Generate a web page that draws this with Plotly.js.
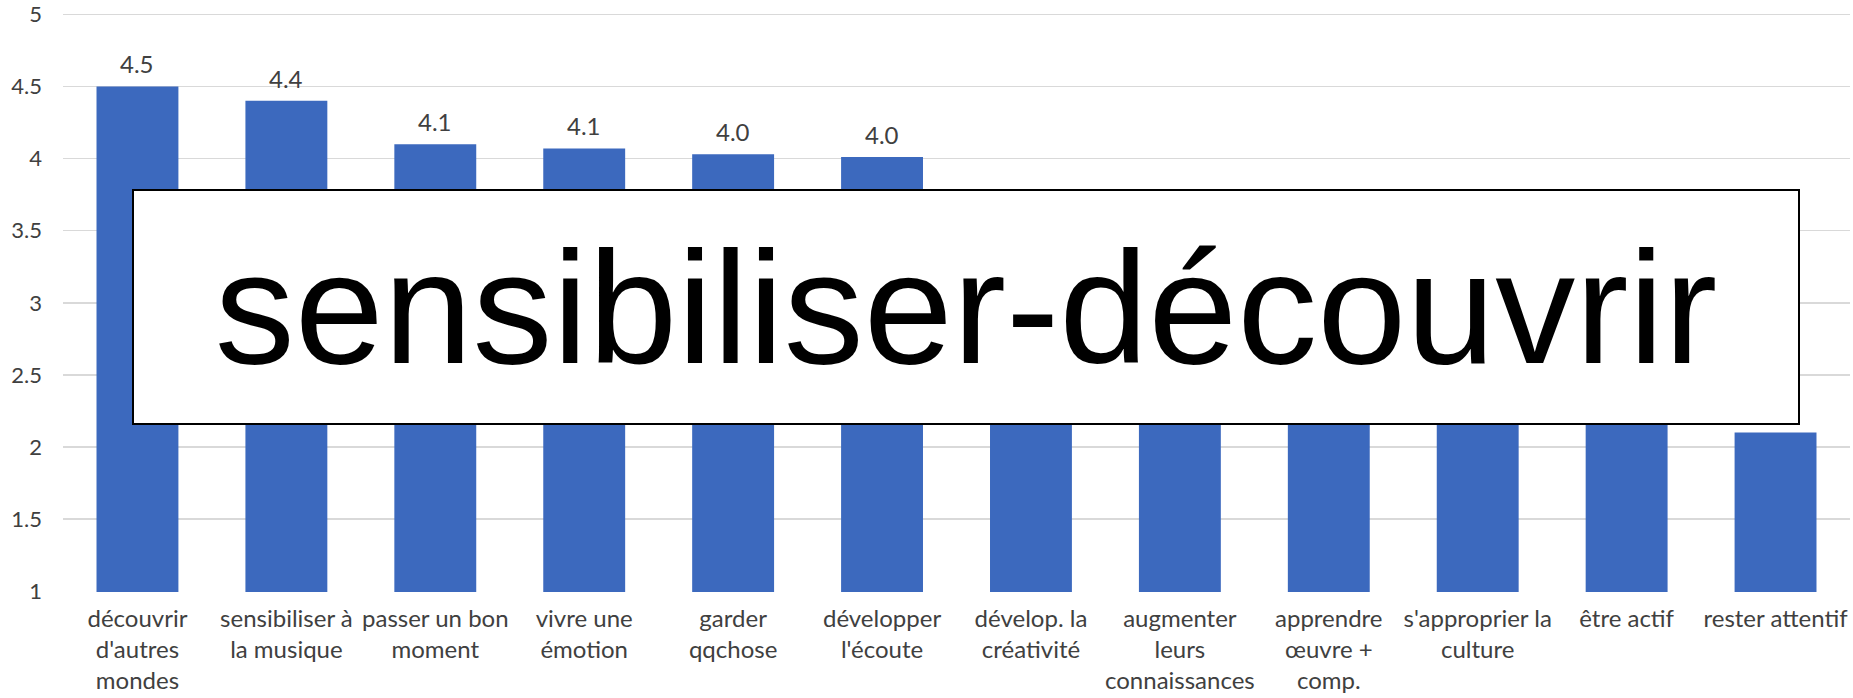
<!DOCTYPE html>
<html>
<head>
<meta charset="utf-8">
<script src="https://cdn.plot.ly/plotly-3.0.1.min.js"></script>
<style>html,body{margin:0;padding:0;background:#fff;}#chart{width:1853px;height:698px;}</style>
</head>
<body>
<div id="chart"></div>
<script>
const categories = [
  "découvrir<br>d'autres<br>mondes",
  "sensibiliser à<br>la musique",
  "passer un bon<br>moment",
  "vivre une<br>émotion",
  "garder<br>qqchose",
  "développer<br>l'écoute",
  "dévelop. la<br>créativité",
  "augmenter<br>leurs<br>connaissances",
  "apprendre<br>œuvre +<br>comp.",
  "s'approprier la<br>culture",
  "être actif",
  "rester attentif"
];
const values = [4.5, 4.4, 4.1, 4.07, 4.03, 4.01, 3.5, 3.3, 3.1, 2.9, 2.6, 2.1];
const yTicks = [1, 1.5, 2, 2.5, 3, 3.5, 4, 4.5, 5];
const overlayText = "sensibiliser-découvrir";
// value range hidden behind the overlay box (labels not visible in the reference)
const hiddenRange = [2.15, 3.9];

const txtFont = {family: "Lato, 'Liberation Sans', sans-serif", size: 24, color: "#404040"};
const tickFont = {family: "Lato, 'Liberation Sans', sans-serif", size: 22, color: "#404040"};

const valueAnnotations = categories
  .map((c, i) => ({c: c, v: values[i]}))
  .filter(d => d.v >= hiddenRange[1] || d.v <= hiddenRange[0])
  .map(d => ({
    x: d.c, y: d.v, xref: "x", yref: "y",
    text: d.v.toFixed(1), showarrow: false,
    yanchor: "bottom", yshift: 6, font: txtFont
  }));

const boxAnnotation = {
  xref: "paper", yref: "paper", x: 0.5053, y: 0.4889,
  xanchor: "center", yanchor: "middle",
  text: overlayText, showarrow: false,
  width: 1664, height: 232, borderpad: 0, borderwidth: 2,
  bordercolor: "#000000", bgcolor: "#ffffff", valign: "middle", align: "center",
  font: {family: "'Liberation Sans', Arial, sans-serif", size: 160, color: "#000000"}
};

const data = [{
  type: "bar", x: categories, y: values,
  marker: {color: "#3C69BE"}, hoverinfo: "none"
}];

const layout = {
  width: 1853, height: 698,
  margin: {l: 63, r: 3, t: 10, b: 106},
  paper_bgcolor: "#ffffff", plot_bgcolor: "#ffffff",
  bargap: 0.45, showlegend: false,
  font: txtFont,
  xaxis: {
    type: "category", showgrid: false, zeroline: false, showline: false,
    ticks: "", tickfont: txtFont, ticklabelstandoff: 10, fixedrange: true
  },
  yaxis: {
    range: [0.995, 5.03], tickvals: yTicks, ticktext: yTicks.map(String),
    showgrid: true, gridcolor: "#d9d9d9", gridwidth: 1.5, zeroline: false, showline: false,
    ticks: "", tickfont: tickFont, ticklabelstandoff: 20, ticklabeloverflow: "allow",
    fixedrange: true
  },
  annotations: valueAnnotations.concat([boxAnnotation])
};

Plotly.newPlot("chart", data, layout, {displayModeBar: false, staticPlot: true});
</script>
</body>
</html>
